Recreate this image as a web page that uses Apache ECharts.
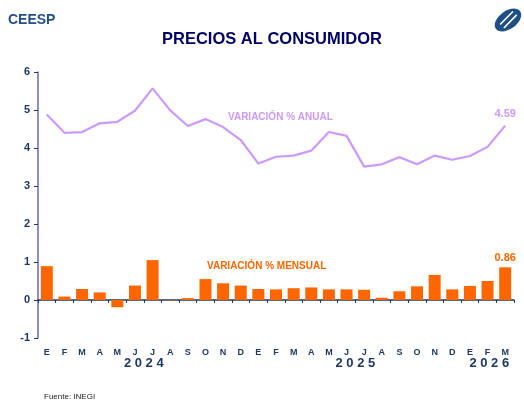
<!DOCTYPE html>
<html>
<head>
<meta charset="utf-8">
<script src="https://cdn.jsdelivr.net/npm/echarts@6/dist/echarts.min.js"></script>
<style>
html,body{margin:0;padding:0;background:#fff;}
#main{width:524px;height:400px;}
</style>
</head>
<body>
<div id="main"></div>
<script>
// meses ene-2024 a mar-2026
var meses = ['E','F','M','A','M','J','J','A','S','O','N','D',
             'E','F','M','A','M','J','J','A','S','O','N','D',
             'E','F','M'];
// variacion % anual
var anual = [4.88,4.40,4.42,4.65,4.69,4.98,5.57,4.99,4.58,4.76,4.55,4.21,
             3.59,3.77,3.80,3.93,4.42,4.32,3.51,3.57,3.76,3.57,3.80,3.69,
             3.79,4.03,4.59];
// variacion % mensual
var mensual = [0.89,0.09,0.29,0.20,-0.19,0.38,1.05,-0.01,0.05,0.55,0.44,0.38,
               0.29,0.28,0.31,0.33,0.28,0.28,0.27,0.06,0.23,0.36,0.66,0.28,
               0.37,0.50,0.86];
// etiquetas de año: [texto, posicion en categorias]
var anios = [['2 0 2 4',5.5],['2 0 2 5',17.5],['2 0 2 6',25.1]];

var azul = '#1f3864';
var lila = '#cc99ff';
var naranja = '#ff6600';
var fuente = '"Liberation Sans", Arial, sans-serif';

var myChart = echarts.init(document.getElementById('main'));
var last = meses.length - 1;

myChart.setOption({
	animation : false,
	textStyle : { fontFamily : fuente },
	grid : { left : 38, right : 10, top : 72, bottom : 62 },
	xAxis : {
		type : 'category',
		data : meses,
		boundaryGap : true,
		axisLine : { lineStyle : { color : azul, width : 1.5 } },
		axisTick : { show : true, length : 3, lineStyle : { color : azul } },
		axisLabel : { color : azul, fontWeight : 'bold', fontSize : 9, margin : 10, interval : 0 }
	},
	yAxis : {
		type : 'value',
		min : -1, max : 6, interval : 1,
		splitLine : { show : false },
		axisLine : { show : true, lineStyle : { color : '#6666cc', width : 1.5 } },
		axisTick : { show : true, length : 4, lineStyle : { color : azul } },
		axisLabel : { color : azul, fontWeight : 'bold', fontSize : 11, margin : 8 }
	},
	series : [ {
		type : 'bar',
		data : mensual,
		barCategoryGap : '32%',
		itemStyle : { color : naranja },
		label : {
			show : true,
			position : 'top',
			color : naranja,
			fontWeight : 'bold',
			fontSize : 11,
			distance : 4,
			formatter : function(p){ return p.dataIndex == last ? p.value.toFixed(2) : ''; }
		}
	}, {
		type : 'line',
		data : anual,
		symbol : 'circle',
		symbolSize : 0,
		showSymbol : true,
		lineStyle : { color : lila, width : 2.2 },
		itemStyle : { color : lila },
		label : {
			show : true,
			position : 'top',
			color : lila,
			fontWeight : 'bold',
			fontSize : 11,
			distance : 6,
			formatter : function(p){ return p.dataIndex == last ? p.value.toFixed(2) : ''; }
		}
	} ]
});

// textos, logo y etiquetas de año
var elems = [
	{ type : 'text', left : 8, top : 13,
	  style : { text : 'CEESP', fill : '#245088', font : 'bold 14px ' + fuente } },
	{ type : 'text', x : 272, y : 31,
	  style : { text : 'PRECIOS AL CONSUMIDOR', fill : '#000066', font : 'bold 16.5px ' + fuente, align : 'center' } },
	{ type : 'text', left : 44, top : 393,
	  style : { text : 'Fuente: INEGI', fill : '#222', font : '8px ' + fuente } },
	{ type : 'text', x : 228, y : 112,
	  style : { text : 'VARIACIÓN % ANUAL', fill : lila, font : 'bold 10px ' + fuente } },
	{ type : 'text', x : 207, y : 261,
	  style : { text : 'VARIACIÓN % MENSUAL', fill : naranja, font : 'bold 10px ' + fuente } },
	{ type : 'group', x : 508, y : 20, rotation : Math.PI / 5, children : [
		{ type : 'ellipse', shape : { cx : 0, cy : 0, rx : 15, ry : 9 }, style : { fill : '#1f5085' } },
		{ type : 'line', shape : { x1 : -9, y1 : -1, x2 : 9, y2 : -4 }, style : { stroke : '#fff', lineWidth : 1.6 } },
		{ type : 'line', shape : { x1 : -8, y1 : 4, x2 : 10, y2 : 1 }, style : { stroke : '#fff', lineWidth : 1.6 } }
	] }
];
for (var k = 0; k < anios.length; k++) {
	var x0 = myChart.convertToPixel({ xAxisIndex : 0 }, Math.floor(anios[k][1]));
	var x1 = myChart.convertToPixel({ xAxisIndex : 0 }, Math.floor(anios[k][1]) + 1);
	var fr = anios[k][1] - Math.floor(anios[k][1]);
	elems.push({ type : 'text', x : x0 + (x1 - x0) * fr, y : 357,
		style : { text : anios[k][0], fill : azul, font : 'bold 13px ' + fuente, align : 'center' } });
}
myChart.setOption({ graphic : elems });
</script>
</body>
</html>
